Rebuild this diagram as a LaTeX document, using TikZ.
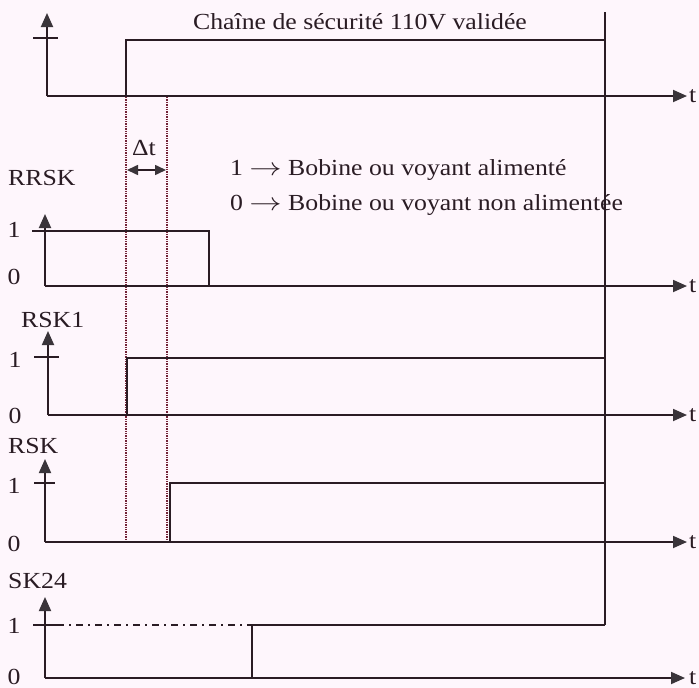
\documentclass[tikz,border=0pt]{standalone}
\usepackage{fontspec}
\setmainfont{Liberation Serif}[FakeStretch=1.12]
\usetikzlibrary{arrows.meta}
\definecolor{bg}{RGB}{254,246,252}
\definecolor{ink}{RGB}{42,28,36}
\definecolor{headc}{RGB}{58,52,58}
\definecolor{dotc}{RGB}{115,35,55}
\tikzset{
  sig/.style={draw=ink, line width=2pt, line join=miter},
  axisline/.style={draw=ink, line width=1.8pt, -{Triangle[length=14pt,width=12pt,color=headc]}},
  tickline/.style={draw=ink, line width=1.6pt},
  dotline/.style={draw=dotc, line width=1.6pt, dash pattern=on 1.3pt off 1.1pt},
  dashdot/.style={draw=ink, line width=1.6pt, dash pattern=on 7pt off 5pt on 2pt off 5pt},
  lbl/.style={font=\fontsize{23}{27}\selectfont, text=ink, inner sep=0pt},
  deltaarrow/.style={draw=ink, line width=1.6pt, {Triangle[length=11pt,width=10pt,color=headc]}-{Triangle[length=11pt,width=10pt,color=headc]}}
}
\newcommand{\rarr}{\;\scalebox{1.3}[1]{$\rightarrow$}\;}
\begin{document}
\begin{tikzpicture}[x=1pt,y=-1pt]
\fill[bg] (0,0) rectangle (699,688);
\useasboundingbox (0,0) rectangle (699,688);

% ---------- top panel ----------
\coordinate (o0) at (47,96);
\coordinate (y0) at (47,13);
\coordinate (x0) at (687,96);
\coordinate (r0) at (126,96);
\coordinate (r0t) at (126,40);
\coordinate (endtop) at (605,12);
\coordinate (endbot) at (605,625);
\draw[axisline] (o0) -- (y0);
\draw[axisline] (o0) -- (x0);
\draw[tickline] (33,38) -- (58,38);
\draw[sig] (r0) -- (r0t) -- (605,40);
\draw[sig] (endtop) -- (endbot);
\node[lbl, anchor=west] (t0) at (689,96) {t};
\node[lbl, anchor=base] (title) at (360,29) {Chaîne de sécurité 110V validée};

% dotted markers
\coordinate (d1a) at (126,97);
\coordinate (d1b) at (126,542);
\coordinate (d2a) at (167,97);
\coordinate (d2b) at (167,542);
\draw[dotline] (d1a) -- (d1b);
\draw[dotline] (d2a) -- (d2b);

% delta t
\node[lbl, anchor=base] (dt) at (144,155) {Δt};
\coordinate (dtl) at (127,170);
\coordinate (dtr) at (166,170);
\draw[deltaarrow] (dtl) -- (dtr);

% legend
\node[lbl, anchor=base west] (leg1) at (230,175) {1\rarr Bobine ou voyant alimenté};
\node[lbl, anchor=base west] (leg2) at (230,210) {0\rarr Bobine ou voyant non alimentée};

% ---------- RRSK ----------
\node[lbl, anchor=base west] (nRRSK) at (8,185) {RRSK};
\coordinate (o1) at (45,286);
\draw[axisline] (o1) -- (45,214);
\draw[axisline] (o1) -- (687,286);
\draw[tickline] (32,231) -- (47,231);
\draw[sig] (45,231) -- (209,231) -- (209,286);
\node[lbl, anchor=base] (one1) at (14,237) {1};
\node[lbl, anchor=base] (zero1) at (14,284) {0};
\node[lbl, anchor=west] (t1) at (689,286) {t};

% ---------- RSK1 ----------
\node[lbl, anchor=base west] (nRSK1) at (21,327) {RSK1};
\coordinate (o2) at (48,415);
\draw[axisline] (o2) -- (48,331);
\draw[axisline] (o2) -- (687,415);
\draw[tickline] (34,357) -- (59,357);
\draw[sig] (127,415) -- (127,358) -- (605,358);
\node[lbl, anchor=base] (one2) at (15,367) {1};
\node[lbl, anchor=base] (zero2) at (15,423) {0};
\node[lbl, anchor=west] (t2) at (689,415) {t};

% ---------- RSK ----------
\node[lbl, anchor=base west] (nRSK) at (8,453) {RSK};
\coordinate (o3) at (45,542);
\draw[axisline] (o3) -- (45,459);
\draw[axisline] (o3) -- (687,542);
\draw[tickline] (34,483) -- (55,483);
\draw[sig] (170,542) -- (170,483) -- (605,483);
\node[lbl, anchor=base] (one3) at (14,493) {1};
\node[lbl, anchor=base] (zero3) at (14,551) {0};
\node[lbl, anchor=west] (t3) at (689,542) {t};

% ---------- SK24 ----------
\node[lbl, anchor=base west] (nSK24) at (8,588) {SK24};
\coordinate (o4) at (45,678);
\draw[axisline] (o4) -- (45,597);
\draw[axisline] (o4) -- (685,678);
\draw[tickline] (33,625) -- (57,625);
\draw[dashdot] (57,625) -- (252,625);
\draw[sig] (252,678) -- (252,625) -- (605,625);
\node[lbl, anchor=base] (one4) at (14,633) {1};
\node[lbl, anchor=base] (zero4) at (14,684) {0};
\node[lbl, anchor=west] (t4) at (689,678) {t};
\end{tikzpicture}
\end{document}
